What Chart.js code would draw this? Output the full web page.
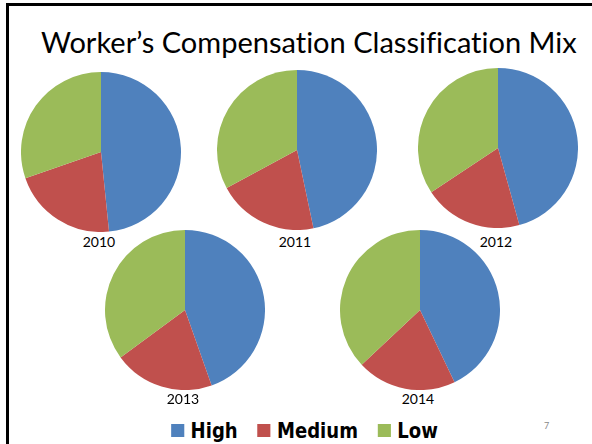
<!DOCTYPE html>
<html>
<head>
<meta charset="utf-8">
<script src="https://cdn.jsdelivr.net/npm/chart.js@4/dist/chart.umd.min.js"></script>
<style>
    html, body { margin: 0; padding: 0; background: #fff; }
    #slide { position: relative; width: 592px; height: 444px; overflow: hidden; }
    #frame {
        position: absolute; left: 6px; top: 3px; width: 700px; height: 600px;
        border-top: 3px solid #000; border-left: 3px solid #000;
    }
    #title {
        position: absolute; left: 41px; top: 24px; white-space: nowrap;
        font-family: Lato, "Open Sans", sans-serif; font-size: 30px; color: #000;
        font-variant-ligatures: none; font-feature-settings: "liga" 0;
    }
    .pie { position: absolute; width: 160px; height: 160px; }
    .year {
        position: absolute; width: 60px; text-align: center;
        font-family: Lato, sans-serif; font-size: 14px; color: #000;
    }
    #legend {
        position: absolute; left: 0; width: 609px; top: 418px; display: flex;
        justify-content: center; align-items: center; gap: 24px;
        transform: scaleX(0.82); transform-origin: 304px 0;
        font-family: "DejaVu Sans", sans-serif; font-weight: bold; font-size: 22px;
    }
    #legend span.item { display: flex; align-items: center; gap: 8px; }
    #legend i { display: inline-block; width: 16px; height: 13px; }
    #pageNum {
        position: absolute; left: 544px; top: 420px;
        font-family: Lato, sans-serif; font-size: 9px; color: #888;
    }
</style>
</head>
<body>
<div id="slide">
    <div id="frame"></div>
    <div id="title">Worker’s Compensation Classification Mix</div>
    <div id="legend"></div>
    <div id="pageNum">7</div>
</div>
<script>
/* ---------------- Data ---------------- */
const years = ["2010", "2011", "2012", "2013", "2014"];
const classes = ["High", "Medium", "Low"];
const high = [48.4, 46.7, 45.7, 44.6, 42.9];
const medium = [21.3, 20.4, 20.0, 20.3, 20.1];
const low = [30.3, 32.9, 34.3, 35.1, 37.0];

const colors = ["#4F81BD", "#C0504D", "#9BBB59"];
// pie centres on the slide
const centers = [[101, 152], [297, 150], [498, 148], [185, 310], [420, 310]];

const slide = document.getElementById("slide");

years.forEach((year, i) => {
    const [cx, cy] = centers[i];

    const box = document.createElement("div");
    box.className = "pie";
    box.style.left = (cx - 80) + "px";
    box.style.top = (cy - 80) + "px";
    const canvas = document.createElement("canvas");
    box.appendChild(canvas);
    slide.appendChild(box);

    new Chart(canvas, {
        type: "pie",
        data: {
            labels: classes,
            datasets: [{
                data: [high[i], medium[i], low[i]],
                backgroundColor: colors,
                borderWidth: 0
            }]
        },
        options: {
            responsive: true,
            maintainAspectRatio: false,
            animation: false,
            layout: { padding: 0 },
            plugins: { legend: { display: false }, tooltip: { enabled: false } }
        }
    });

    const lab = document.createElement("div");
    lab.className = "year";
    lab.textContent = year;
    lab.style.left = (cx - 30 - 2) + "px";
    lab.style.top = (i < 3 ? 233 : 390) + "px";
    slide.appendChild(lab);
});

/* ---------------- Legend ---------------- */
const legend = document.getElementById("legend");
classes.forEach((c, k) => {
    const item = document.createElement("span");
    item.className = "item";
    item.innerHTML = `<i style="background:${colors[k]}"></i>${c}`;
    legend.appendChild(item);
});

/* ---------------- Fit title ---------------- */
const title = document.getElementById("title");
const w = title.getBoundingClientRect().width;
title.style.fontSize = (30 * 536 / w).toFixed(2) + "px";
</script>
</body>
</html>
